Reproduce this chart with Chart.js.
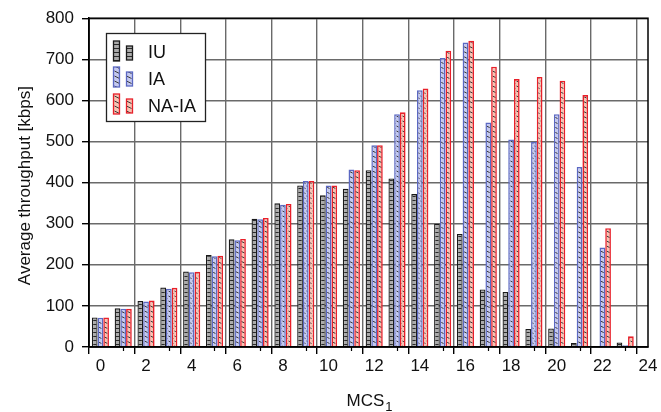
<!DOCTYPE html>
<html><head><meta charset="utf-8">
<script src="https://cdn.jsdelivr.net/npm/chart.js@4.4.0/dist/chart.umd.min.js"></script>
<style>html,body{margin:0;padding:0;background:#fff}</style>
</head><body>
<canvas id="c" width="661" height="412"></canvas>
<script>
// ---- data ----
const mcs = [0,1,2,3,4,5,6,7,8,9,10,11,12,13,14,15,16,17,18,19,20,21,22,23];
const iu   = [72, 94,112,145,184,224,262,312,350,393,369,385,430,410,372,300,275,140,134, 44, 45, 10,  0, 11];
const ia   = [71, 93,111,142,182,221,260,311,346,404,393,432,491,566,625,703,741,546,505,499,566,438,242,  4];
const naia = [72, 93,113,144,183,222,263,314,348,404,393,430,491,571,629,721,745,682,652,657,648,613,289, 26];
const seriesNames = ['IU','IA','NA-IA'];
const xTickValues = [0,1,2,3,4,5,6,7,8,9,10,11,12,13,14,15,16,17,18,19,20,21,22,23,24];
const xTickLabels = [0,2,4,6,8,10,12,14,16,18,20,22,24];
const yTickValues = [0,100,200,300,400,500,600,700,800];
const yTitle = 'Average throughput [kbps]';
const xTitleMain = 'MCS';
const xTitleSub = '1';

// ---- patterns ----
function makePattern(kind){
  const p = document.createElement('canvas');
  if(kind==='iu'){
    p.width=4; p.height=4;
    const g=p.getContext('2d');
    g.fillStyle='#ababab'; g.fillRect(0,0,4,4);
    g.fillStyle='#2a2a2a'; g.fillRect(0,0,4,1);
  } else {
    p.width=6; p.height=5;
    const g=p.getContext('2d');
    g.fillStyle = kind==='ia' ? '#c3c8f0' : '#f7c2b2';
    g.fillRect(0,0,6,5);
    g.strokeStyle='#3a3a3a'; g.lineWidth=1;
    g.beginPath(); g.moveTo(0.5,1); g.lineTo(5.5,3.5); g.stroke();
  }
  return document.getElementById('c').getContext('2d').createPattern(p,'repeat');
}
const patIU = makePattern('iu'), patIA = makePattern('ia'), patNA = makePattern('na');
const borderCols = ['#1a1a1a','#5b68c2','#e8202a'];
const borderWidths = [1.3, 1.5, 1.6];
const fills = [patIU, patIA, patNA];

const FONT = 'Liberation Sans, Arial, Helvetica, sans-serif';
const gridColor = '#6a6a6a';

const toXY = arr => mcs.map((m,i)=>({x:m, y:arr[i]}));

const extras = {
  id:'extras',
  afterDraw(chart){
    const ctx = chart.ctx, a = chart.chartArea, xs = chart.scales.x;
    ctx.save();
    // minor ticks at odd values
    ctx.strokeStyle='#000'; ctx.lineWidth=1.2;
    xTickValues.forEach(v=>{
      if(v%2===1){
        const px = Math.round(xs.getPixelForValue(v))+0.5;
        ctx.beginPath(); ctx.moveTo(px,a.bottom); ctx.lineTo(px,a.bottom+4); ctx.stroke();
      }
    });
    // frame
    ctx.strokeStyle='#000'; ctx.lineWidth=1.5;
    ctx.strokeRect(a.left, a.top, a.right-a.left, a.bottom-a.top);
    // legend box
    const lx=106, ly=33, lw=99, lh=88;
    ctx.fillStyle='#fff'; ctx.fillRect(lx,ly,lw,lh);
    ctx.strokeStyle='#222'; ctx.lineWidth=1.3; ctx.strokeRect(lx+0.5,ly+0.5,lw,lh);
    const rows=[[41,61,46,60,52],[67,87,72,86,79],[94,114,99,113,106]];
    rows.forEach((r,i)=>{
      ctx.fillStyle=fills[i]; ctx.strokeStyle=borderCols[i]; ctx.lineWidth=1.3;
      ctx.fillRect(113.5,r[0],6,r[1]-r[0]); ctx.strokeRect(113.5,r[0],6,r[1]-r[0]);
      ctx.fillRect(126.5,r[2],6,r[3]-r[2]); ctx.strokeRect(126.5,r[2],6,r[3]-r[2]);
      ctx.fillStyle='#111'; ctx.font='18px '+FONT; ctx.textBaseline='middle'; ctx.textAlign='left';
      ctx.fillText(chart.data.datasets[i].label,148,r[4]+1);
    });
    // axis titles
    ctx.fillStyle='#111'; ctx.font='17px '+FONT;
    ctx.save(); ctx.translate(25,(a.top+a.bottom)/2+3); ctx.rotate(-Math.PI/2);
    ctx.textAlign='center'; ctx.textBaseline='middle'; ctx.fillText(yTitle,0,0); ctx.restore();
    ctx.textAlign='left'; ctx.textBaseline='alphabetic';
    const mw = ctx.measureText(xTitleMain).width;
    ctx.font='13px '+FONT; const sw = ctx.measureText(xTitleSub).width;
    const cx = (a.left+a.right)/2 + 1;
    const x0 = cx - (mw+sw+1)/2;
    ctx.font='17px '+FONT; ctx.fillText(xTitleMain,x0,406);
    ctx.font='13px '+FONT; ctx.fillText(xTitleSub,x0+mw+1,411);
    ctx.restore();
  }
};

new Chart(document.getElementById('c'), {
  type:'bar',
  data:{
    datasets:[
      {label:seriesNames[0], data:toXY(iu),   backgroundColor:patIU, borderColor:borderCols[0], borderWidth:borderWidths[0]},
      {label:seriesNames[1], data:toXY(ia),   backgroundColor:patIA, borderColor:borderCols[1], borderWidth:borderWidths[1]},
      {label:seriesNames[2], data:toXY(naia), backgroundColor:patNA, borderColor:borderCols[2], borderWidth:borderWidths[2]}
    ]
  },
  options:{
    responsive:false, animation:false, devicePixelRatio:1,
    layout:{padding:{left:0,right:13,top:17,bottom:0}},
    datasets:{bar:{categoryPercentage:0.75, barPercentage:1, grouped:true, borderSkipped:'bottom'}},
    plugins:{legend:{display:false}, tooltip:{enabled:false}},
    scales:{
      x:{
        type:'linear', min:-0.5, max:24, offset:false,
        afterBuildTicks: s => { s.ticks = xTickValues.map(v=>({value:v})); },
        afterFit: s => { s.height = 65; },
        ticks:{ autoSkip:false, maxRotation:0, padding:2, color:'#111', font:{family:FONT,size:17},
          callback: v => xTickLabels.includes(v) ? String(v) : '' },
        grid:{ lineWidth:1.4, tickLength:7,
          color: c => (c.tick && c.tick.value%2===0) ? gridColor : 'rgba(0,0,0,0)',
          tickColor: c => (c.tick && c.tick.value%2===0) ? '#000' : 'rgba(0,0,0,0)' },
        border:{display:true, color:'#000', width:1.5}
      },
      y:{
        min:0, max:800,
        afterBuildTicks: s => { s.ticks = yTickValues.map(v=>({value:v})); },
        afterFit: s => { s.width = 89; },
        ticks:{ padding:8, color:'#111', font:{family:FONT,size:17} },
        grid:{ lineWidth:1.4, tickLength:7, color:gridColor, tickColor:'#000' },
        border:{display:true, color:'#000', width:1.5}
      }
    }
  },
  plugins:[extras]
});
</script>
</body></html>
